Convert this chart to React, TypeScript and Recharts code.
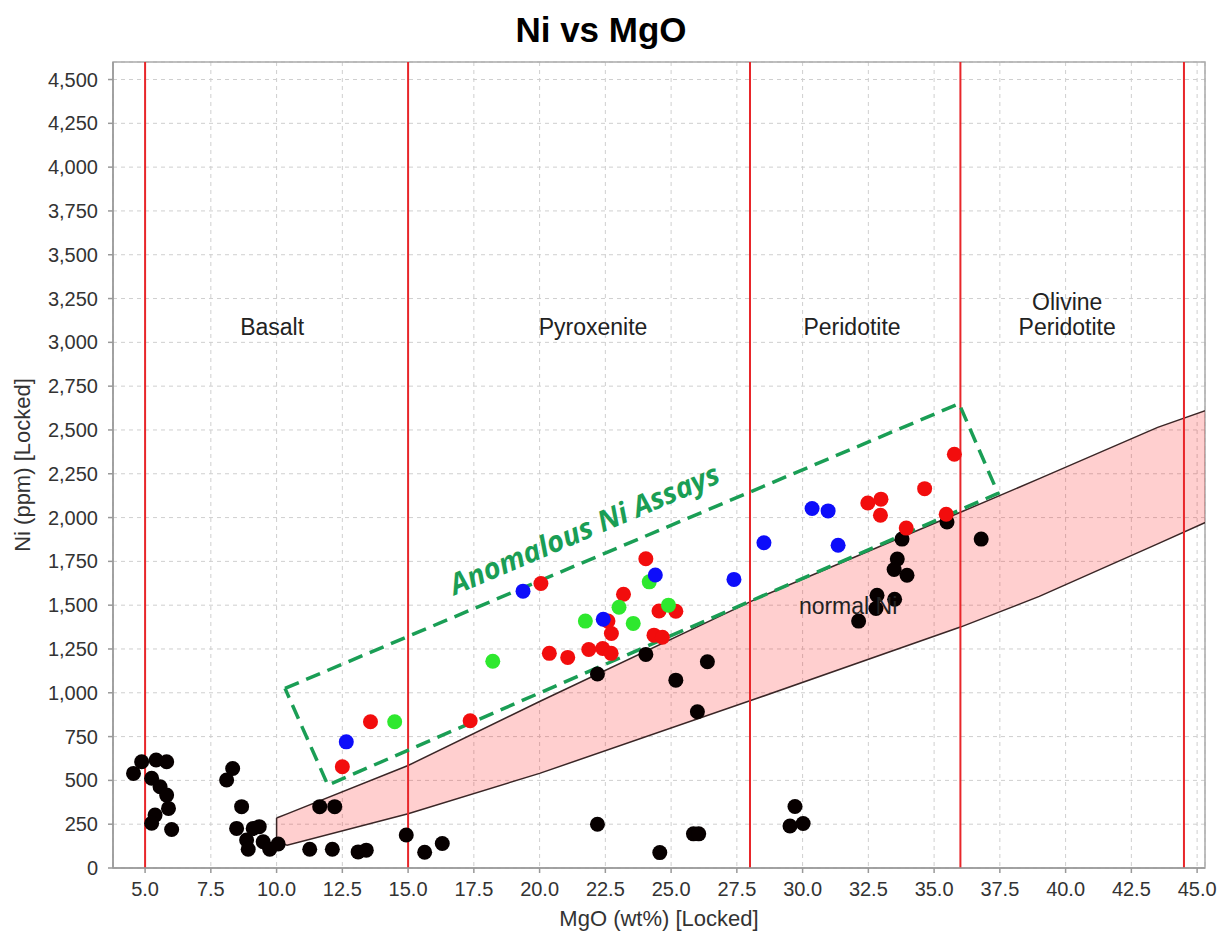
import React from 'react';
import {
  ComposedChart,
  XAxis,
  YAxis,
  CartesianGrid,
  Scatter,
  Line,
  Area,
  ReferenceLine,
  ReferenceDot,
  ReferenceArea,
} from 'recharts';

// Axis ticks
const X_TICKS = [5, 7.5, 10, 12.5, 15, 17.5, 20, 22.5, 25, 27.5, 30, 32.5, 35, 37.5, 40, 42.5, 45];
const Y_TICKS = [0, 250, 500, 750, 1000, 1250, 1500, 1750, 2000, 2250, 2500, 2750, 3000, 3250, 3500, 3750, 4000, 4250, 4500];

// Rock type boundaries (MgO wt%)
const ROCK_BOUNDARIES = [5, 15, 28, 36, 44.5];
const ROCK_LABELS = [
  { text: 'Basalt', mgo: 9.83, ni: 3090 },
  { text: 'Pyroxenite', mgo: 22.03, ni: 3090 },
  { text: 'Peridotite', mgo: 31.88, ni: 3090 },
  { text: 'Olivine', mgo: 40.06, ni: 3232 },
  { text: 'Peridotite', mgo: 40.06, ni: 3085 },
];

// "normal Ni" band
const BAND_MGO = [10, 10.4, 15, 20, 28.3, 36, 39, 43.5, 45.5];
const BAND_LOW = [150, 130, 310, 540, 970, 1375, 1550, 1850, 1985];
const BAND_HIGH = [285, 309, 585, 950, 1540, 2030, 2222, 2515, 2620];

// Anomalous assay box corners
const BOX_MGO = [10.32, 35.95, 37.43, 11.95, 10.32];
const BOX_NI = [1025, 2650, 2138, 473, 1025];

// Assays
const BLACK_MGO = [
  4.56, 4.87, 5.42, 5.82, 5.25, 5.57, 5.82, 5.89, 5.38, 5.25, 6.01,
  8.1, 8.33, 8.67, 8.48, 8.86, 8.92, 9.11, 9.34, 9.49, 9.74, 10.06,
  11.64, 12.21, 11.26, 12.12, 13.1, 13.41, 14.93, 15.63, 16.3,
  22.2, 24.57, 25.85, 26.05, 29.71, 29.52, 30.02,
  22.2, 24.04, 25.18, 26.38, 26.0,
  33.78, 35.49, 36.79, 33.6, 33.48, 33.97, 32.83, 32.79, 33.5, 32.13,
];
const BLACK_NI = [
  540, 606, 616, 606, 512, 464, 416, 340, 302, 255, 220,
  502, 568, 350, 226, 160, 107, 226, 236, 150, 107, 137,
  350, 350, 107, 107, 92, 102, 188, 90, 140,
  250, 88, 195, 195, 351, 240, 254,
  1107, 1219, 1072, 1177, 892,
  1877, 1975, 1877, 1763, 1704, 1671, 1557, 1481, 1534, 1409,
];
const RED_MGO = [12.5, 13.57, 17.36, 20.05, 20.37, 21.07, 21.87, 22.4, 22.72, 22.6, 22.73, 23.19, 24.04, 24.35, 24.67, 24.54, 25.18, 32.48, 32.98, 32.96, 34.64, 35.77, 33.94, 35.46];
const RED_NI = [578, 835, 840, 1624, 1225, 1202, 1247, 1253, 1225, 1409, 1338, 1562, 1765, 1329, 1317, 1467, 1465, 2083, 2105, 2013, 2165, 2361, 1940, 2019];
const GREEN_MGO = [14.49, 18.22, 21.74, 23.02, 23.56, 24.17, 24.9];
const GREEN_NI = [835, 1180, 1409, 1488, 1396, 1633, 1500];
const BLUE_MGO = [12.65, 19.37, 22.42, 24.4, 27.39, 28.53, 30.36, 30.97, 31.35];
const BLUE_NI = [720, 1580, 1420, 1672, 1647, 1856, 2052, 2038, 1842];

const toPoints = (xs: number[], ys: number[]) => xs.map((mgo, i) => ({ mgo, ni: ys[i] }));

const bandData = BAND_MGO.map((mgo, i) => ({ mgo, low: BAND_LOW[i], high: BAND_HIGH[i] }));
const bandOutline = [
  ...toPoints(BAND_MGO, BAND_HIGH),
  ...toPoints(BAND_MGO, BAND_LOW).reverse(),
  { mgo: BAND_MGO[0], ni: BAND_HIGH[0] },
];
const boxData = toPoints(BOX_MGO, BOX_NI);

const FONT = '"Liberation Sans", Arial, sans-serif';

const dot = (color: string) => (p: any) => (
  <circle cx={p.cx} cy={p.cy} r={7.5} fill={color} />
);

const textMark = (text: string, style: React.SVGProps<SVGTextElement>) => (p: any) => (
  <text x={p.cx} y={p.cy} textAnchor="middle" dominantBaseline="central" {...style}>
    {text}
  </text>
);

const App = () => {
  return (
    <div style={{ position: 'absolute', left: 0, top: 0, width: 1230, height: 938, background: '#fff', fontFamily: FONT }}>
      <ComposedChart
        width={1230}
        height={938}
        data={bandData}
        margin={{ top: 62, right: 25, bottom: 40, left: 33 }}
      >
        <CartesianGrid stroke="#cfcfcf" strokeDasharray="4 4" />
        <ReferenceArea x1={3.78} x2={45.3} y1={0} y2={4600} fill="none" stroke="#aaaaaa" strokeWidth={1.5} ifOverflow="visible" />
        <XAxis
          dataKey="mgo"
          type="number"
          domain={[3.78, 45.3]}
          ticks={X_TICKS}
          allowDataOverflow
          height={30}
          tickSize={5}
          tickMargin={9}
          tickFormatter={(v: number) => v.toFixed(1)}
          tick={{ fill: '#333', fontSize: 20, fontFamily: FONT }}
          stroke="#999"
          strokeWidth={1.5}
        />
        <YAxis
          type="number"
          domain={[0, 4600]}
          ticks={Y_TICKS}
          allowDataOverflow
          width={80}
          tickSize={5}
          tickMargin={10}
          tickFormatter={(v: number) => v.toLocaleString('en-US')}
          tick={{ fill: '#333', fontSize: 20, fontFamily: FONT }}
          stroke="#999"
          strokeWidth={1.5}
        />
        <Area
          type="linear"
          dataKey={(d: any) => [d.low, d.high]}
          fill="#ff0000"
          fillOpacity={0.19}
          stroke="none"
          isAnimationActive={false}
          activeDot={false}
        />
        <Line
          data={bandOutline}
          dataKey="ni"
          type="linear"
          stroke="#3a2626"
          strokeWidth={1.5}
          dot={false}
          activeDot={false}
          isAnimationActive={false}
        />
        {ROCK_BOUNDARIES.map((x) => (
          <ReferenceLine key={x} x={x} stroke="#e8262a" strokeWidth={2} />
        ))}
        {ROCK_LABELS.map((l, i) => (
          <ReferenceDot
            key={i}
            x={l.mgo}
            y={l.ni}
            r={0}
            shape={textMark(l.text, { fontSize: 23, fill: '#222', fontFamily: FONT })}
          />
        ))}
        <Scatter data={toPoints(BLACK_MGO, BLACK_NI)} dataKey="ni" shape={dot('#070000')} isAnimationActive={false} />
        <Scatter data={toPoints(RED_MGO, RED_NI)} dataKey="ni" shape={dot('#f20d0d')} isAnimationActive={false} />
        <Scatter data={toPoints(GREEN_MGO, GREEN_NI)} dataKey="ni" shape={dot('#2ee82e')} isAnimationActive={false} />
        <Scatter data={toPoints(BLUE_MGO, BLUE_NI)} dataKey="ni" shape={dot('#0d0dfa')} isAnimationActive={false} />
        <ReferenceDot
          x={31.73}
          y={1498}
          r={0}
          shape={textMark('normal Ni', { fontSize: 23, fill: '#222', fontFamily: FONT })}
        />
        <Line
          data={boxData}
          dataKey="ni"
          type="linear"
          stroke="#1a9e55"
          strokeWidth={3.5}
          strokeDasharray="15 8"
          dot={false}
          activeDot={false}
          isAnimationActive={false}
        />
        <ReferenceDot
          x={21.85}
          y={1880}
          r={0}
          shape={(p: any) => (
            <text
              x={p.cx}
              y={p.cy}
              textAnchor="middle"
              transform={`rotate(-23 ${p.cx} ${p.cy})`}
              fontSize={29}
              fontWeight="bold"
              fontStyle="italic"
              fill="#1a9e55"
              fontFamily='"Open Sans", sans-serif'
            >
              Anomalous Ni Assays
            </text>
          )}
        />
      </ComposedChart>
      <svg width={1230} height={938} style={{ position: 'absolute', left: 0, top: 0, pointerEvents: 'none' }}>
        <text x={601} y={42} textAnchor="middle" fontSize={35} fontWeight="bold" fill="#000" fontFamily={FONT}>
          Ni vs MgO
        </text>
        <text x={659} y={926} textAnchor="middle" fontSize={22} fill="#333" fontFamily={FONT}>
          MgO (wt%) [Locked]
        </text>
        <text
          x={0}
          y={0}
          textAnchor="middle"
          transform="translate(30 465) rotate(-90)"
          fontSize={22}
          fill="#333"
          fontFamily={FONT}
        >
          Ni (ppm) [Locked]
        </text>
      </svg>
    </div>
  );
};

export default App;
